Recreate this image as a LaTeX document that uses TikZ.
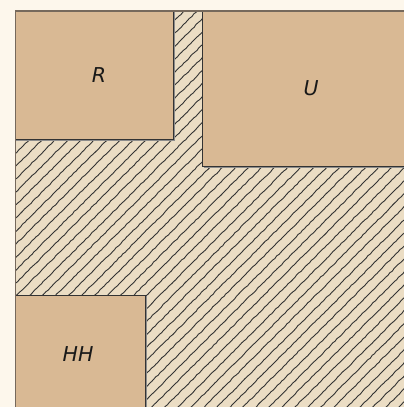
\documentclass[tikz,border=0pt]{standalone}
\usepackage{fontspec}
\setsansfont{DejaVu Sans}
\usetikzlibrary{decorations.pathmorphing}
\definecolor{bgc}{HTML}{FDF7EC}
\definecolor{boxc}{HTML}{D9B994}
\definecolor{hatchbg}{HTML}{EBDDC4}
\definecolor{linec}{HTML}{333333}
\definecolor{edgec}{HTML}{76695C}
\begin{document}
\begin{tikzpicture}[x=1pt,y=-1pt,
  room/.style={fill=boxc,draw=linec,line width=1pt},
  roomshadow/.style={draw=black!45,line width=1pt},
  lbl/.style={font=\sffamily\itshape\fontsize{20.5}{23}\selectfont,text=black!90,inner sep=0pt},
  hatchline/.style={draw=linec,line width=0.9pt,decorate,decoration={random steps,segment length=3pt,amplitude=0.35pt}}]
\useasboundingbox (0,0) rectangle (404,407);
\fill[bgc] (0,0) rectangle (404,407);
% hatched ground
\fill[hatchbg] (15,11) rectangle (404,407);
\begin{scope}
  \clip (15,11) rectangle (404,407);
  \pgfmathsetseed{7}
  \foreach \c in {26,39,...,826} {
    \draw[hatchline] (\c-430,430) -- (\c,0);
  }
\end{scope}
% shadows
\draw[roomshadow] (16,140.5) -- (174.5,140.5) -- (174.5,12);
\draw[roomshadow] (203.5,167.5) -- (405,167.5);
\draw[roomshadow] (146.5,296) -- (146.5,408);
% rooms
\draw[room] (15,11) rectangle (173,139);
\draw[room] (202,11) rectangle (410,166);
\draw[room] (15,295) rectangle (145,412);
% outer edges
\draw[edgec,line width=1.6pt] (15.5,11) -- (15.5,407);
\draw[edgec,line width=1.2pt] (15,11) -- (404,11);
% labels
\node[lbl] (r) at (99,75) {R};
\node[lbl] (u) at (311,88) {U};
\node[lbl] (hh) at (78,354) {HH};
\end{tikzpicture}
\end{document}
